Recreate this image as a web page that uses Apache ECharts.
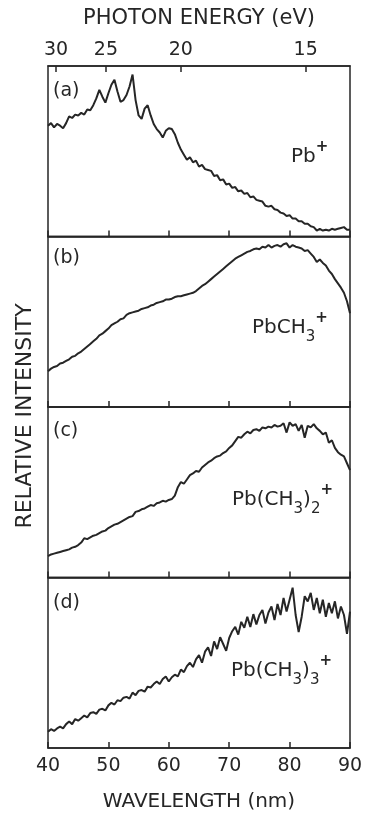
<!DOCTYPE html>
<html><head><meta charset="utf-8">
<script src="https://cdn.jsdelivr.net/npm/echarts@6/dist/echarts.min.js"></script>
<style>html,body{margin:0;padding:0;background:#fff}#c{width:368px;height:818px}</style>
</head><body><div id="c"></div>
<script>
const wavelength = [40,40.5,41,41.5,42,42.5,43,43.5,44,44.5,45,45.5,46,46.5,47,47.5,48,48.5,49,49.5,50,50.5,51,51.5,52,52.5,53,53.5,54,54.5,55,55.5,56,56.5,57,57.5,58,58.5,59,59.5,60,60.5,61,61.5,62,62.5,63,63.5,64,64.5,65,65.5,66,66.5,67,67.5,68,68.5,69,69.5,70,70.5,71,71.5,72,72.5,73,73.5,74,74.5,75,75.5,76,76.5,77,77.5,78,78.5,79,79.5,80,80.5,81,81.5,82,82.5,83,83.5,84,84.5,85,85.5,86,86.5,87,87.5,88,88.5,89,89.5,90];
const pbPlus = [65,66.5,64,66,65,63.5,66.5,70.5,69.5,71.5, 71,72.5,71.5,74.5,74,77,81,86,82,78.5, 84,89,92,85,79,80,83,88,95,80, 71,69,75,77,71,66,63,61,58,62, 63.5,63,60,55,51,48,45,46.5,43.5,44.5, 41,42,39.5,39,38.5,35.5,36,33,33.5,30.5, 31,28.5,29,26.5,27,25,25.5,23,23.5,21.5, 21,20.5,18,17.5,18,16,15.5,14,13.5,12, 12.5,10.5,10.5,9,9,7.5,7.5,6,5.5,3.5, 4.5,3.5,4,3.5,4.5,4,4.5,5,5.5,4, 4];
const pbCH3 = [21,22.5,23.5,24,25.5,26,27,28,29.5,30, 31.5,32.5,34,35.5,37,38.5,40,42,43,44.5, 46,48,49,50,51.5,52,54,55,55.5,56, 56.5,57.5,58,58.5,59.5,60,61,61.5,62,63, 63,63.5,64.5,65,65,65.5,66,66.5,67,68, 69.5,71,72,73.5,75,76.5,78,79.5,81,82.5, 84,85.5,87,88,89,90,91,91.5,92.5,93, 92.5,94,93.5,95,93.5,94.5,95,94,95.5,96, 93.5,95,94,93.5,93,91.5,92,90,88,85, 86.5,84.5,83,80,78,75,72.5,70,67,62, 55];
const pbCH32 = [12.5,13.5,14,14.5,15,15.5,16,16.5,17.5,18, 19,20.5,23,22.5,23.5,24.5,25,26,27,27.5, 29,30,31,31.5,32.5,33.5,34.5,35.5,36,38.5, 39,40,40.5,41.5,42.5,42,43.5,44,45,44.5, 45.5,46,48,53,56,55,57.5,60,61,62.5, 62,64.5,66,67.5,68.5,70,71,71.5,73,74, 76,77.5,80,82.5,82,84,85.5,84.5,86.5,87, 86,88,87.5,88.5,88,89.5,88.5,89,90.5,85, 91,89,90,86,89.5,82,89,88,90,87.5, 86,84,85,79,80.5,76,73.5,72,71,67, 63];
const pbCH33 = [9.5,11,10,11.5,12.5,11.5,14,15.5,14,17, 16,17.5,19,18,20.5,21,20,22.5,23,22, 25,26.5,25.5,28,27.5,29.5,30,29,32.5,31, 33.5,34,33,36,35.5,37.5,39,37.5,40.5,42, 39,41.5,43,42,46,44.5,48,50,47.5,52, 54.5,50,56.5,59,54,62.5,58,65,61,57, 64.5,68.5,71,66.5,74,70.5,77,71,78.5,72.5, 78,81,73,79.5,83,75,84.5,78,88,80, 87,94,78,68,77,89,86,91,81,88, 79,87,77,85,79,86,76,83,78,67, 80];
const energyTicks = [30, 25, 20, 15];
const xTicks = [40, 50, 60, 70, 80, 90];
const panelLabels = ['(a)', '(b)', '(c)', '(d)'];
const allSeries = [pbPlus, pbCH3, pbCH32, pbCH33];

const HC = 1239.84;
const FONT = 'DejaVu Sans';
const INK = '#262626';
const tops = [66, 236.5, 407, 577.5];
const H = 170.5;

const grids = tops.map(t => ({left: 48, right: 18, top: t, height: H, show: true, borderColor: INK, borderWidth: 1.5, backgroundColor: 'transparent'}));
const xAxes = [];
const yAxes = [];
tops.forEach((t, i) => {
  xAxes.push({
    type: 'value', gridIndex: i, min: xTicks[0], max: xTicks[xTicks.length-1], interval: 10, position: 'bottom',
    axisLine: {show: true, lineStyle: {color: INK, width: 1.5}},
    axisTick: {show: true, inside: true, length: 6, lineStyle: {color: INK, width: 1.5}},
    splitLine: {show: false},
    axisLabel: {show: i === 3, color: INK, fontFamily: FONT, fontSize: 19, margin: 9, showMinLabel: true, showMaxLabel: true},
    name: i === 3 ? 'WAVELENGTH (nm)' : '', nameLocation: 'middle', nameGap: 44,
    nameTextStyle: {color: INK, fontFamily: FONT, fontSize: 20}
  });
  yAxes.push({type: 'value', gridIndex: i, min: 0, max: 100, show: false});
});
// top photon energy axis
xAxes.push({
  type: 'value', gridIndex: 0, min: 40, max: 90, position: 'top',
  axisLine: {show: true, lineStyle: {color: INK, width: 1.5}},
  axisTick: {show: true, inside: true, length: 6, lineStyle: {color: INK, width: 1.5}, customValues: energyTicks.map(e => HC / e)},
  axisLabel: {show: true, color: INK, fontFamily: FONT, fontSize: 19, margin: 6, customValues: energyTicks.map(e => HC / e), formatter: v => String(Math.round(HC / v))},
  splitLine: {show: false},
  name: 'PHOTON ENERGY (eV)', nameLocation: 'middle', nameGap: 37,
  nameTextStyle: {color: INK, fontFamily: FONT, fontSize: 21}
});

const series = allSeries.map((vals, i) => ({
  type: 'line', xAxisIndex: i, yAxisIndex: i, showSymbol: false, silent: true, animation: false,
  lineStyle: {color: INK, width: 2}, data: wavelength.map((w, k) => [w, vals[k]])
}));

const rich = {
  sub: {fontFamily: FONT, fontSize: 15, fill: INK, verticalAlign: 'bottom', lineHeight: 34},
  sup: {fontFamily: FONT, fontSize: 15, fill: INK, verticalAlign: 'top', lineHeight: 34, fontWeight: 'bold'},
  n: {fontFamily: FONT, fontSize: 20, fill: INK, lineHeight: 34}
};
function txt(x, y, text, size, extra) {
  return {type: 'text', x: x, y: y, silent: true, style: Object.assign({text: text, fill: INK, font: size + 'px "' + FONT + '"', textVerticalAlign: 'middle'}, extra || {})};
}
const labelYs = [91, 258, 431, 603];
const graphics = labelYs.map((y, i) => txt(53, y, panelLabels[i], 19));
graphics.push(txt(291, 157, '{n|Pb}{sup|+}', 20, {rich: rich}));
graphics.push(txt(252, 328, '{n|PbCH}{sub|3}{sup|+}', 20, {rich: rich}));
graphics.push(txt(232, 500, '{n|Pb(CH}{sub|3}{n|)}{sub|2}{sup|+}', 20, {rich: rich}));
graphics.push(txt(231, 671, '{n|Pb(CH}{sub|3}{n|)}{sub|3}{sup|+}', 20, {rich: rich}));
graphics.push({type: 'text', x: 25, y: 416, rotation: Math.PI / 2, silent: true,
  style: {text: 'RELATIVE INTENSITY', fill: INK, font: '22px "' + FONT + '"', textAlign: 'center', textVerticalAlign: 'middle'}});

const chart = echarts.init(document.getElementById('c'), null, {renderer: 'canvas'});
chart.setOption({
  backgroundColor: '#fff', animation: false,
  grid: grids, xAxis: xAxes, yAxis: yAxes, series: series, graphic: graphics
});
</script></body></html>
